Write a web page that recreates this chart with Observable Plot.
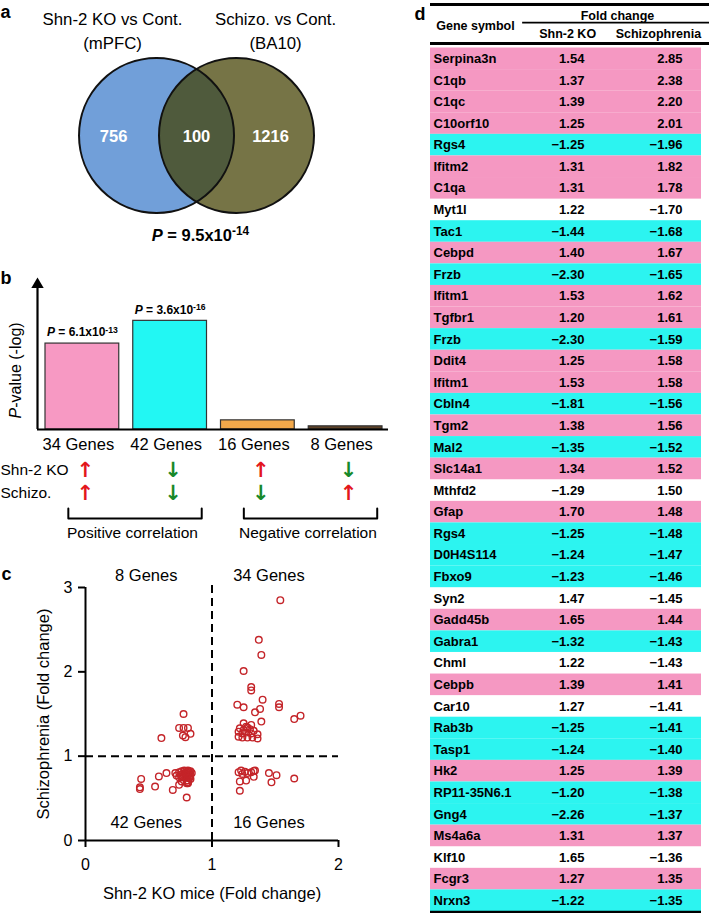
<!DOCTYPE html>
<html><head><meta charset="utf-8">
<script src="https://cdn.jsdelivr.net/npm/d3@7"></script>
<script src="https://cdn.jsdelivr.net/npm/@observablehq/plot@0.6"></script>
<style>
body{margin:0;background:#fff;}
#fig{position:relative;width:709px;height:913px;overflow:hidden;background:#fff;}
</style></head><body><div id="fig"></div>
<script>
// ---------- DATA ----------
// Panel a (Venn)
const vennSets = ["Shn-2 KO vs Cont.", "Schizo. vs Cont."];
const vennRegions = ["(mPFC)", "(BA10)"];
const vennCounts = [756, 100, 1216]; // KO only, overlap, schizo only
const vennP = "P = 9.5x10^-14";

// Panel b (bars)
const barCategories = ["34 Genes", "42 Genes", "16 Genes", "8 Genes"];
const barNegLogP = [12.21, 15.44, 1.3, 0.45];
const barPLabels = ["P = 6.1x10^-13", "P = 3.6x10^-16", "", ""];
const koDirection = ["up", "down", "up", "down"];
const szDirection = ["up", "down", "down", "up"];
const directionRows = ["Shn-2 KO", "Schizo."];
const corrGroups = ["Positive correlation", "Negative correlation"];

// Panel c (scatter)
const quadrantLabels = ["8 Genes", "34 Genes", "42 Genes", "16 Genes"];
const koFold = [
  1.54,1.37,1.39,1.25,1.31,1.31,1.40,1.53,1.20,1.25,1.53,1.38,1.34,1.70,1.65,1.39,1.25,1.31,1.27,
  1.28,1.22,1.25,1.30,1.33,1.21,1.24,1.27,1.31,1.36,1.21,1.24,1.28,1.32,1.36,
  0.80,0.69,0.43,0.43,0.55,0.74,0.80,0.81,0.81,0.76,0.80,0.81,0.83,0.44,0.82,
  0.58,0.64,0.71,0.72,0.74,0.75,0.76,0.77,0.78,0.78,0.79,0.80,0.80,0.81,0.81,0.82,0.82,0.83,0.83,0.79,0.77,0.80,0.82,0.84,0.76,0.74,0.81,
  1.22,1.47,1.22,1.27,1.65,1.23,1.26,1.24,1.28,1.33,1.34,1.33,1.45,1.51,1.21,1.31,
  0.775,0.60,0.74,0.775,0.81,0.77,0.79,0.83
];
const szFold = [
  2.85,2.38,2.20,2.01,1.82,1.78,1.67,1.62,1.61,1.58,1.58,1.56,1.52,1.48,1.44,1.41,1.39,1.37,1.35,
  1.34,1.33,1.31,1.32,1.30,1.29,1.27,1.28,1.27,1.26,1.23,1.22,1.22,1.22,1.21,
  0.51,0.60,0.61,0.63,0.64,0.66,0.68,0.68,0.69,0.70,0.71,0.71,0.73,0.73,0.74,
  0.76,0.80,0.80,0.77,0.81,0.78,0.82,0.75,0.80,0.83,0.77,0.81,0.75,0.79,0.83,0.76,0.81,0.78,0.82,0.74,0.79,0.78,0.745,0.80,0.76,0.75,0.82,
  0.59,0.69,0.70,0.71,0.735,0.83,0.815,0.79,0.80,0.825,0.83,0.755,0.80,0.775,0.81,0.81,
  1.50,1.215,1.335,1.335,1.335,1.245,1.225,1.265
];

// Panel d (table)
const geneSymbols = ["Serpina3n","C1qb","C1qc","C10orf10","Rgs4","Ifitm2","C1qa","Myt1l","Tac1","Cebpd","Frzb","Ifitm1","Tgfbr1","Frzb","Ddit4","Ifitm1","Cbln4","Tgm2","Mal2","Slc14a1","Mthfd2","Gfap","Rgs4","D0H4S114","Fbxo9","Syn2","Gadd45b","Gabra1","Chml","Cebpb","Car10","Rab3b","Tasp1","Hk2","RP11-35N6.1","Gng4","Ms4a6a","Klf10","Fcgr3","Nrxn3"];
const koFC = [1.54,1.37,1.39,1.25,-1.25,1.31,1.31,1.22,-1.44,1.40,-2.30,1.53,1.20,-2.30,1.25,1.53,-1.81,1.38,-1.35,1.34,-1.29,1.70,-1.25,-1.24,-1.23,1.47,1.65,-1.32,1.22,1.39,1.27,-1.25,-1.24,1.25,-1.20,-2.26,1.31,1.65,1.27,-1.22];
const szFC = [2.85,2.38,2.20,2.01,-1.96,1.82,1.78,-1.70,-1.68,1.67,-1.65,1.62,1.61,-1.59,1.58,1.58,-1.56,1.56,-1.52,1.52,1.50,1.48,-1.48,-1.47,-1.46,-1.45,1.44,-1.43,-1.43,1.41,-1.41,-1.41,-1.40,1.39,-1.38,-1.37,1.37,-1.36,1.35,-1.35];
const tableHeader = ["Gene symbol", "Fold change", "Shn-2 KO", "Schizophrenia"];

// ---------- STYLE ----------
const FONT = "'Liberation Sans', Arial, Helvetica, sans-serif";
const PINK = "#f598c2", CYAN = "#2cf4f0";
const barColors = ["#f799c3", "#22f7f3", "#f2a84a", "#5e4227"];
const fig = document.getElementById("fig");
const baseStyle = {fontFamily: FONT, fontSize: "15px", background: "transparent", overflow: "visible"};
const NS = "http://www.w3.org/2000/svg";

function richify(root) {
  root.querySelectorAll("text").forEach(t => {
    const s = t.textContent;
    const ital = /^P[ -]/.test(s);
    if (!ital && !s.includes("^")) return;
    t.textContent = "";
    let rest = s;
    if (ital) {
      const it = document.createElementNS(NS, "tspan");
      it.setAttribute("font-style", "italic");
      it.textContent = "P";
      t.appendChild(it);
      rest = s.slice(1);
    }
    const [base, sup] = rest.split("^");
    t.appendChild(document.createTextNode(base));
    if (sup) {
      const st = document.createElementNS(NS, "tspan");
      st.setAttribute("dy", "-0.45em");
      st.setAttribute("font-size", "0.72em");
      st.textContent = sup;
      t.appendChild(st);
    }
  });
}
function place(el, left, top) {
  el.style.position = "absolute";
  el.style.left = left + "px";
  el.style.top = top + "px";
  el.style.maxWidth = "none";
  fig.appendChild(el);
  richify(el);
}
const letter = (s, dx, dy) => Plot.text([s], {frameAnchor: "top-left", dx, dy, textAnchor: "start", lineAnchor: "middle", fontSize: 18, fontWeight: "bold"});

// ---------- PANEL a ----------
const vennCircles = vennSets.map((s, i) => ({s, sub: vennRegions[i], cx: i ? 0.516 : -0.516, tx: i ? 1.02 : -1.084}));
const vennNums = vennCounts.map((n, i) => ({n, x: [-1.07, 0, 0.955][i]}));
place(Plot.plot({
  width: 410, height: 270, margin: 0, style: baseStyle,
  x: {domain: [-2.529, 2.761], axis: null},
  y: {domain: [-1.742, 1.742], axis: null},
  marks: [
    Plot.dot(vennCircles.slice(0, 1), {x: "cx", y: 0, r: 77.5, fill: "#719fd9"}),
    Plot.dot(vennCircles.slice(1), {x: "cx", y: 0, r: 77.5, fill: "#423f00", fillOpacity: 0.725}),
    Plot.dot(vennCircles, {x: "cx", y: 0, r: 77.5, stroke: "#111", strokeWidth: 2}),
    Plot.text(vennCircles, {x: "tx", y: 1.368, text: d => d.s + "\n" + d.sub, lineHeight: 1.4, fontSize: 16.8}),
    Plot.text(vennNums, {x: "x", y: -0.02, text: d => String(d.n), fill: "white", fontSize: 16.5, fontWeight: "bold"}),
    Plot.text([vennP], {x: 0.05, y: -1.29, fontSize: 16.5, fontWeight: "bold"}),
    letter("a", 0, 12)
  ]
}), 0, 0);

// ---------- PANEL b (bars) ----------
const bars = barCategories.map((c, i) => ({c, i, v: barNegLogP[i], p: barPLabels[i]}));
place(Plot.plot({
  width: 410, height: 185, margin: 0, style: baseStyle,
  x: {domain: [0, 4], range: [38, 389], axis: null},
  y: {domain: [0, 21.6], range: [159, 7], axis: null},
  marks: [
    Plot.rect(bars, {x1: "i", x2: d => d.i + 1, y1: 0, y2: "v", insetLeft: 7, insetRight: 7, fill: d => barColors[d.i], stroke: "#333", strokeWidth: 1.2}),
    Plot.ruleX([0], {y1: 0, y2: 20.5, strokeWidth: 2.2, dx: -1}),
    Plot.dot([0], {x: 0, y: 20.6, symbol: "triangle", r: 4.6, fill: "black", dx: -1}),
    Plot.ruleY([0], {x1: 0, x2: 4, strokeWidth: 2.2, dx: -1}),
    Plot.text(bars, {x: d => d.i + 0.5, y: 0, dy: 15, dx: -4, text: "c", fontSize: 16.5}),
    Plot.text(bars.filter(d => d.p), {x: d => d.i + 0.5, y: "v", dy: -11, text: "p", fontSize: 12, fontWeight: "bold"}),
    Plot.text(["P-value (-log)"], {frameAnchor: "left", y: 8.4, dx: 15, rotate: -90, textAnchor: "middle", lineAnchor: "middle", fontSize: 16}),
    letter("b", 0, 8)
  ]
}), 0, 270);

// ---------- PANEL b (directions + brackets) ----------
const dirRows = directionRows.map((label, r) => ({label, r, dirs: r ? szDirection : koDirection}));
const arrows = dirRows.flatMap(row => row.dirs.map((d, i) => ({i, r: row.r, d})));
const brackets = corrGroups.map((g, k) => ({g, a: 2 * k + 0.34, b: 2 * k + 1.86}));
const bracketPath = brackets.flatMap(b => [
  {g: b.g, x: b.a, y: 1.65}, {g: b.g, x: b.a, y: 2.09}, {g: b.g, x: b.b, y: 2.09}, {g: b.g, x: b.b, y: 1.65}
]);
place(Plot.plot({
  width: 410, height: 95, margin: 0, style: baseStyle,
  x: {domain: [0, 4], range: [38, 389], axis: null},
  y: {domain: [0, 4], range: [15, 107], axis: null},
  marks: [
    Plot.text(dirRows, {y: "r", text: "label", frameAnchor: "left", textAnchor: "start", lineAnchor: "middle", fontSize: 15.5}),
    Plot.text(arrows, {x: d => d.i + 0.5, y: "r", dx: 3, text: d => d.d === "up" ? "↑" : "↓",
      fill: d => d.d === "up" ? "#e3161c" : "#17892a", fontSize: 21, fontWeight: "bold", fontFamily: "DejaVu Sans"}),
    Plot.line(bracketPath, {x: "x", y: "y", z: "g", strokeWidth: 2}),
    Plot.text(brackets, {x: d => (d.a + d.b) / 2 - 0.03, y: 2.74, text: "g", fontSize: 15.5})
  ]
}), 0, 455);

// ---------- PANEL c (scatter) ----------
const points = koFold.map((x, i) => ({x, y: szFold[i]}));
const quads = quadrantLabels.map((t, i) => ({t, x: i % 2 ? 1.45 : 0.48, y: i < 2 ? 3.14 : 0.21}));
place(Plot.plot({
  width: 345, height: 353, marginLeft: 85, marginRight: 7, marginTop: 27, marginBottom: 73, style: baseStyle,
  x: {domain: [0, 2]},
  y: {domain: [0, 3]},
  marks: [
    Plot.axisX({ticks: [0, 1, 2], tickFormat: "d", tickSize: 7, tickPadding: 11, fontSize: 16, strokeWidth: 2, label: null}),
    Plot.axisY({ticks: [0, 1, 2, 3], tickFormat: "d", tickSize: 7, tickPadding: 6, fontSize: 16, strokeWidth: 2, label: null}),
    Plot.ruleX([0], {strokeWidth: 2}),
    Plot.ruleY([0], {strokeWidth: 2}),
    Plot.ruleY([1], {strokeDasharray: "8,5", strokeWidth: 2}),
    Plot.ruleX([1], {y1: 0, y2: 3.06, strokeDasharray: "8,5", strokeWidth: 2}),
    Plot.dot(points, {x: "x", y: "y", r: 3.3, stroke: "#c42429", strokeWidth: 1.4}),
    Plot.text(quads, {x: "x", y: "y", text: "t", fontSize: 16.5}),
    Plot.text(["Shn-2 KO mice (Fold change)"], {x: 1, frameAnchor: "bottom", dy: 53, lineAnchor: "middle", textAnchor: "middle", fontSize: 16.5}),
    Plot.text(["Schizophrenia (Fold change)"], {y: 1.5, frameAnchor: "left", dx: -42, rotate: -90, textAnchor: "middle", lineAnchor: "middle", fontSize: 16.5}),
    letter("c", -84, -13)
  ]
}), 0, 560);

// ---------- PANEL d (table) ----------
const fmt = d3.format(".2f");
const rows = geneSymbols.map((g, i) => ({g, i, ko: koFC[i], sz: szFC[i]}));
const headerCells = tableHeader.map((t, k) => ({t, x: [0.166, 0.69, 0.506, 0.841][k], y: [-1.04, -1.505, -0.67, -0.67][k]}));
const headerRules = [
  {y: -2.015, x1: 0, x2: 1.03, w: 3},
  {y: -1.18, x1: 0.34, x2: 1.03, w: 1.8},
  {y: -0.21, x1: 0, x2: 1.03, w: 3},
  {y: 40.04, x1: 0, x2: 1.0, w: 3}
];
place(Plot.plot({
  width: 299, height: 913, margin: 0, style: baseStyle,
  x: {domain: [0, 1], range: [20, 291], axis: null},
  y: {domain: [0, 40], range: [47.5, 911], axis: null},
  marks: [
    Plot.rect(rows.filter(d => d.ko * d.sz > 0), {x1: 0, x2: 1, y1: "i", y2: d => d.i + 1, fill: d => d.ko > 0 ? PINK : CYAN}),
    Plot.text(rows, {x: 0, dx: 3, y: d => d.i + 0.5, text: "g", textAnchor: "start", fontSize: 13, fontWeight: "bold"}),
    Plot.text(rows, {x: 0.568, y: d => d.i + 0.5, text: d => fmt(d.ko), textAnchor: "end", fontSize: 13, fontWeight: "bold"}),
    Plot.text(rows, {x: 0.93, y: d => d.i + 0.5, text: d => fmt(d.sz), textAnchor: "end", fontSize: 13, fontWeight: "bold"}),
    Plot.text(headerCells, {x: "x", y: "y", text: "t", fontSize: 12.5, fontWeight: "bold"}),
    Plot.ruleY(headerRules, {y: "y", x1: "x1", x2: "x2", strokeWidth: "w"}),
    letter("d", 4, 14)
  ]
}), 410, 0);
</script></body></html>
